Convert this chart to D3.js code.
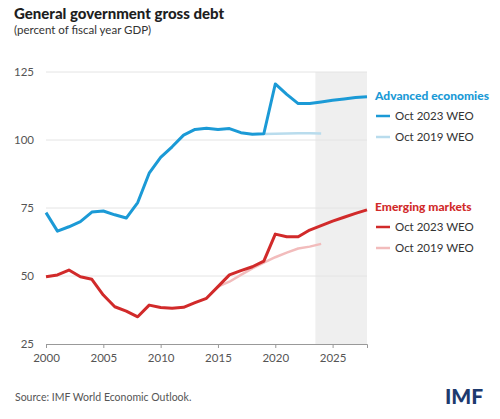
<!DOCTYPE html>
<html><head><meta charset="utf-8">
<script src="https://cdn.jsdelivr.net/npm/d3@7"></script>
<style>body{margin:0;background:#fff;} svg{display:block;}</style>
</head><body>
<script>
const years = d3.range(2000, 2029);
const advanced2023 = [73.3,66.5,68.1,70.0,73.5,73.9,72.5,71.3,77.0,87.8,93.6,97.5,101.8,103.9,104.3,103.9,104.2,102.7,102.1,102.3,120.6,116.8,113.4,113.4,114.0,114.6,115.1,115.6,115.9];
const advanced2019Years = [2019,2020,2021,2022,2023,2024];
const advanced2019 = [102.2,102.3,102.4,102.5,102.5,102.4];
const emerging2023 = [49.7,50.4,52.2,49.7,48.8,43.0,38.7,37.1,35.0,39.3,38.4,38.1,38.5,40.2,41.8,46.1,50.4,52.0,53.4,55.5,65.4,64.4,64.4,66.9,68.5,70.2,71.6,73.0,74.3];
const emerging2019Years = [2015,2016,2017,2018,2019,2020,2021,2022,2023,2024];
const emerging2019 = [46.1,47.9,50.4,52.8,54.9,56.9,58.6,60.1,60.8,61.8];
const yTicks = [25,50,75,100,125];
const xTicks = [2000,2005,2010,2015,2020,2025];
const projectionStart = 2023.5;

const W=500,H=419;
const svg=d3.select("body").append("svg").attr("width",W).attr("height",H);
const font="Lato, 'Open Sans', sans-serif";
const x=d3.scaleLinear().domain([2000,2028]).range([46,367]);
const y=d3.scaleLinear().domain([25,125]).range([344,72]);

svg.append("rect").attr("x",x(projectionStart)).attr("y",y(125)).attr("width",x(2028)-x(projectionStart)).attr("height",y(25)-y(125)).attr("fill","#efefef");

const g=svg.append("g");
g.selectAll(".grid").data(yTicks.filter(d=>d>25)).enter().append("line")
 .attr("x1",x(2000)).attr("x2",x(2028)).attr("y1",d=>y(d)).attr("y2",d=>y(d))
 .attr("stroke","#e4e4e4").attr("stroke-width",1);

const yAxis=svg.append("g").attr("transform",`translate(${x(2000)},0)`)
 .call(d3.axisLeft(y).tickValues(yTicks).tickSize(0).tickPadding(12));
yAxis.select(".domain").remove();
yAxis.selectAll("text").attr("font-family",font).attr("font-size",11.5).attr("fill","#555");

const xAxis=svg.append("g").attr("transform",`translate(0,${y(25)})`)
 .call(d3.axisBottom(x).tickValues(xTicks).tickFormat(d3.format("d")).tickSize(4).tickPadding(6));
xAxis.select(".domain").attr("stroke","#999");
xAxis.selectAll("line").attr("stroke","#999");
xAxis.selectAll("text").attr("font-family",font).attr("font-size",11.5).attr("fill","#555");

const line=d3.line().x(d=>x(d[0])).y(d=>y(d[1]));
function draw(xs,vs,color,w){
  svg.append("path").datum(xs.map((d,i)=>[d,vs[i]])).attr("d",line)
   .attr("fill","none").attr("stroke",color).attr("stroke-width",w).attr("stroke-linejoin","round");
}
draw(advanced2019Years,advanced2019,"#b9dced",2.5);
draw(years,advanced2023,"#1b9ad6",3);
draw(emerging2019Years,emerging2019,"#f2bcbc",2.5);
draw(years,emerging2023,"#d12a2a",3);

svg.append("text").attr("x",14).attr("y",19).text("General government gross debt")
 .attr("font-family",font).attr("font-weight",900).attr("font-size",15).attr("fill","#1e1e1e");
svg.append("text").attr("x",14).attr("y",34).text("(percent of fiscal year GDP)")
 .attr("font-family",font).attr("font-size",11.5).attr("fill","#333");

function legend(y0,title,color,c1,c2){
  svg.append("text").attr("x",375).attr("y",y0).text(title).attr("font-family",font)
   .attr("font-weight",900).attr("font-size",12).attr("fill",color);
  [[c1,"Oct 2023 WEO"],[c2,"Oct 2019 WEO"]].forEach((d,i)=>{
    const yy=y0+16+i*21;
    svg.append("line").attr("x1",376).attr("x2",390).attr("y1",yy).attr("y2",yy).attr("stroke",d[0]).attr("stroke-width",2.5);
    svg.append("text").attr("x",395).attr("y",yy+4).text(d[1]).attr("font-family",font)
     .attr("font-size",11.5).attr("fill","#333");
  });
}
legend(100,"Advanced economies","#1b9ad6","#1b9ad6","#b9dced");
legend(211,"Emerging markets","#d12a2a","#d12a2a","#f2bcbc");

svg.append("text").attr("x",15).attr("y",401).text("Source: IMF World Economic Outlook.")
 .attr("font-family",font).attr("font-size",10.5).attr("fill","#555");
svg.append("text").attr("x",445).attr("y",404).text("IMF").attr("font-family",font)
 .attr("font-weight",900).attr("font-size",21).attr("fill","#1d3a6e");
</script>
</body></html>
